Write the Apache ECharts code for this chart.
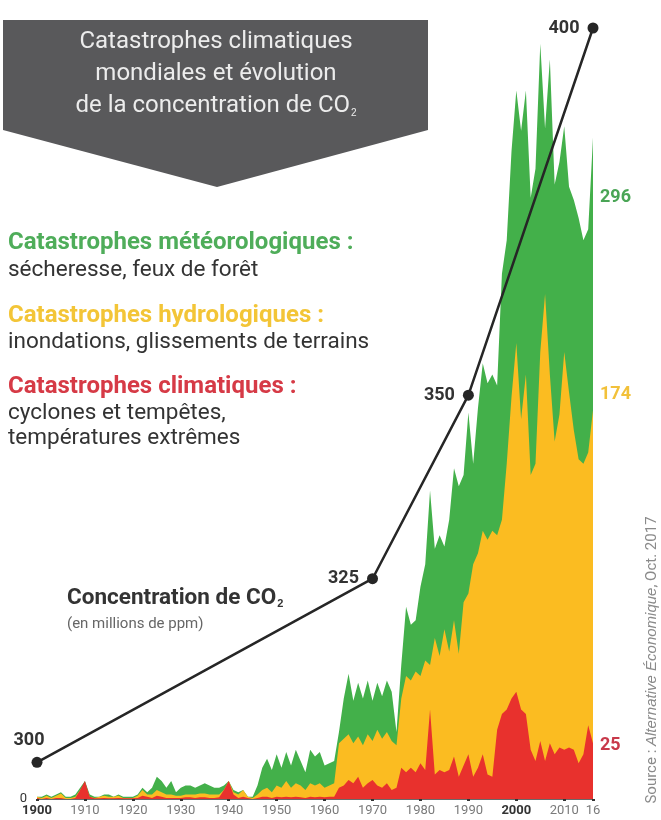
<!DOCTYPE html>
<html>
<head>
<meta charset="utf-8">
<script src="https://cdn.jsdelivr.net/npm/echarts@6/dist/echarts.min.js"></script>
<style>
html,body{margin:0;padding:0;background:#fff;}
#chart{width:661px;height:820px;}
</style>
</head>
<body>
<div id="chart"></div>
<script>
// ---- DATA ----
const firstYear = 1900;
const lastYear = 2016;
// Catastrophes météorologiques (green, top envelope)
const meteo = [
1,1,2,1,2,3,1,1,2,5,
8,2,1,1,2,2,1,2,1,1,
1,2,5,3,5,10,8,5,8,3,
5,6,6,5,6,7,6,5,5,6,
8,4,3,4,1,1,6,14,18,13,
20,14,21,15,22,17,12,22,19,21,
15,16,17,30,45,56,44,52,45,53,
44,52,46,53,48,30,60,86,78,80,
95,105,138,112,118,113,125,148,140,145,
173,150,175,195,186,190,185,235,250,290,
317,299,317,269,282,338,300,331,275,285,
301,274,268,260,250,255,296
];
// Catastrophes hydrologiques (yellow)
const hydro = [
1,0.5,1.5,0.5,1.5,2.5,0.5,0.5,1,4,
7,1,0.5,1,1.5,1,1,1.5,0.5,0.5,
0.5,1.5,4,2,2,4,3,2,2,1.5,
1.5,2,2,2,2.5,2.5,2,2,2,4,
8,3,2,4,1,0.5,2,4,5,3,
6,5,8,5,7,6,4,7,6,7,
5,6,7,25,27,29,25,28,24,29,
26,31,27,30,26,24,45,55,53,57,
55,62,60,72,64,76,66,80,65,88,
92,105,110,120,116,120,118,125,150,180,
204,170,190,145,150,200,226,190,160,172,
200,182,165,152,150,155,174
];
// Catastrophes climatiques (red)
const clim = [
0.5,0,0.5,0,0.5,0.5,0,0,0.5,4,
8,1,0.3,0.3,0.5,0.3,0.3,0.5,0.3,0.3,
0.3,0.5,1.5,1,0.5,1.5,1,0.5,0.5,0.5,
0.5,0.8,0.8,0.5,0.8,0.8,0.5,0.5,0.8,4,
8,2,0.5,1,0.5,0,0.5,1,1,0.5,
1,0.8,1,0.8,1,0.8,0.5,1,0.8,1,
0.8,1,1,5,6,8.5,7,10,5,7,
8.5,6,5,7,4,5,14,12,14,12,
16,13,40,11,13,12,13,19,10,15,
20,10,14,20,11,10,31,38,40,45,
48,40,38,22,17,26,17,25,20,23,
22,23,22,16,20,33,25
];
// Concentration de CO2 (ppm)
const co2Years = [1900, 1970, 1990, 2016];
const co2Values = [300, 325, 350, 400];

const titleLines = ['Catastrophes climatiques', 'mondiales et évolution', 'de la concentration de CO'];

// ---- CHART ----
const years = [];
for (let y = firstYear; y <= lastYear; y++) years.push(y);
const pairs = arr => arr.map((v, i) => [years[i], v]);

const FONT = 'Roboto, "Liberation Sans", sans-serif';
const GREEN = '#43b04a', YELLOW = '#fbbc21', RED = '#e8312d';

const chart = echarts.init(document.getElementById('chart'), null, {renderer: 'canvas'});

function areaSeries(name, arr, color, labelColor, labelOffsetY, z) {
  return {
    name, type: 'line', data: pairs(arr), symbol: 'none', smooth: false, z,
    lineStyle: {width: 0, color}, itemStyle: {color},
    areaStyle: {color, opacity: 1},
    endLabel: {
      show: true, formatter: p => p.value[1], color: labelColor,
      fontFamily: FONT, fontWeight: 'bold', fontSize: 18, distance: 7,
      offset: [0, labelOffsetY]
    },
    silent: true, animation: false
  };
}

const co2Data = co2Years.map((y, i) => ({
  value: [y, co2Values[i]],
  label: i === 0 ? {position: 'top', offset: [-8, -2]} : {position: 'left', distance: 8}
}));

chart.setOption({
  animation: false,
  grid: {left: 37, right: 68, top: 28, bottom: 21, containLabel: false},
  xAxis: {
    type: 'value', min: firstYear, max: lastYear, interval: 10,
    splitLine: {show: false},
    axisLine: {show: true, lineStyle: {color: '#6a6a6a', width: 1}},
    axisTick: {show: true, length: 2, lineStyle: {color: '#333', width: 3}},
    axisLabel: {
      margin: 5, fontFamily: FONT, fontSize: 13, color: '#7a7a7a',
      formatter: v => {
        if (v === 2016) return '16';
        if (v === 1900 || v === 2000) return '{b|' + v + '}';
        return String(v);
      },
      rich: {b: {fontFamily: FONT, fontSize: 13, fontWeight: 'bold', color: '#333'}}
    }
  },
  yAxis: [
    {
      type: 'value', min: 0, max: 345, interval: 345,
      splitLine: {show: false}, axisLine: {show: false}, axisTick: {show: false},
      axisLabel: {margin: 10, fontFamily: FONT, fontSize: 13, color: '#333',
        formatter: v => v === 0 ? '0' : ''}
    },
    {
      type: 'value', min: 295, max: 400, show: false, splitLine: {show: false}
    }
  ],
  series: [
    areaSeries('Catastrophes météorologiques', meteo, GREEN, '#4aa556', 60, 1),
    areaSeries('Catastrophes hydrologiques', hydro, YELLOW, '#f2c13a', -16, 2),
    areaSeries('Catastrophes climatiques', clim, RED, '#c8394a', 2, 3),
    {
      name: 'CO2', type: 'line', yAxisIndex: 1, z: 5,
      data: co2Data, symbol: 'circle', symbolSize: 11,
      lineStyle: {color: '#262626', width: 2.5}, itemStyle: {color: '#262626'},
      label: {show: true, formatter: p => p.value[1], fontFamily: FONT,
        fontWeight: 'bold', fontSize: 18, color: '#333'},
      animation: false, silent: true
    }
  ],
  graphic: [
    {type: 'polygon', z: 10, shape: {points: [[3, 20], [428, 20], [428, 130], [217, 187], [3, 130]]},
      style: {fill: '#59595b'}},
    {type: 'text', z: 11, style: {text: titleLines[0], x: 216, y: 42, textAlign: 'center', textVerticalAlign: 'middle', fill: '#ececec', font: '24px ' + FONT}},
    {type: 'text', z: 11, style: {text: titleLines[1], x: 216, y: 74, textAlign: 'center', textVerticalAlign: 'middle', fill: '#ececec', font: '24px ' + FONT}},
    {type: 'text', z: 11, style: {text: titleLines[2] + '{s|2}', x: 216, y: 106, textAlign: 'center', textVerticalAlign: 'middle', fill: '#ececec', font: '24px ' + FONT,
      rich: {s: {fontSize: 10, fill: '#ececec', verticalAlign: 'bottom', padding: [12, 0, 0, 1]}}}},

    {type: 'text', z: 11, style: {text: 'Catastrophes météorologiques :', x: 8, y: 243, textVerticalAlign: 'middle', fill: '#4fad5a', font: 'bold 24px ' + FONT}},
    {type: 'text', z: 11, style: {text: 'sécheresse, feux de forêt', x: 8, y: 270, textVerticalAlign: 'middle', fill: '#333', font: '22.5px ' + FONT}},
    {type: 'text', z: 11, style: {text: 'Catastrophes hydrologiques :', x: 8, y: 316, textVerticalAlign: 'middle', fill: '#f3c537', font: 'bold 24px ' + FONT}},
    {type: 'text', z: 11, style: {text: 'inondations, glissements de terrains', x: 8, y: 342, textVerticalAlign: 'middle', fill: '#333', font: '22.5px ' + FONT}},
    {type: 'text', z: 11, style: {text: 'Catastrophes climatiques :', x: 8, y: 387, textVerticalAlign: 'middle', fill: '#d63a46', font: 'bold 24px ' + FONT}},
    {type: 'text', z: 11, style: {text: 'cyclones et tempêtes,', x: 8, y: 413, textVerticalAlign: 'middle', fill: '#333', font: '22.5px ' + FONT}},
    {type: 'text', z: 11, style: {text: 'températures extrêmes', x: 8, y: 438, textVerticalAlign: 'middle', fill: '#333', font: '22.5px ' + FONT}},

    {type: 'text', z: 11, style: {text: 'Concentration de CO{s|2}', x: 67, y: 598, textVerticalAlign: 'middle', fill: '#333', font: 'bold 22.5px ' + FONT,
      rich: {s: {fontSize: 11, fontWeight: 'bold', fill: '#333', verticalAlign: 'bottom', padding: [12, 0, 0, 1]}}}},
    {type: 'text', z: 11, style: {text: '(en millions de ppm)', x: 67, y: 624, textVerticalAlign: 'middle', fill: '#666', font: '15px ' + FONT}},

    {type: 'text', z: 11, x: 652, y: 660, rotation: Math.PI / 2,
      style: {text: 'Source : {i|Alternative Économique}, Oct. 2017', x: 0, y: 0, textAlign: 'center', textVerticalAlign: 'middle', fill: '#8a8a8a', font: '15px ' + FONT,
        rich: {i: {fontStyle: 'italic', fontSize: 15, fill: '#8a8a8a'}}}}
  ]
});
</script>
</body>
</html>
